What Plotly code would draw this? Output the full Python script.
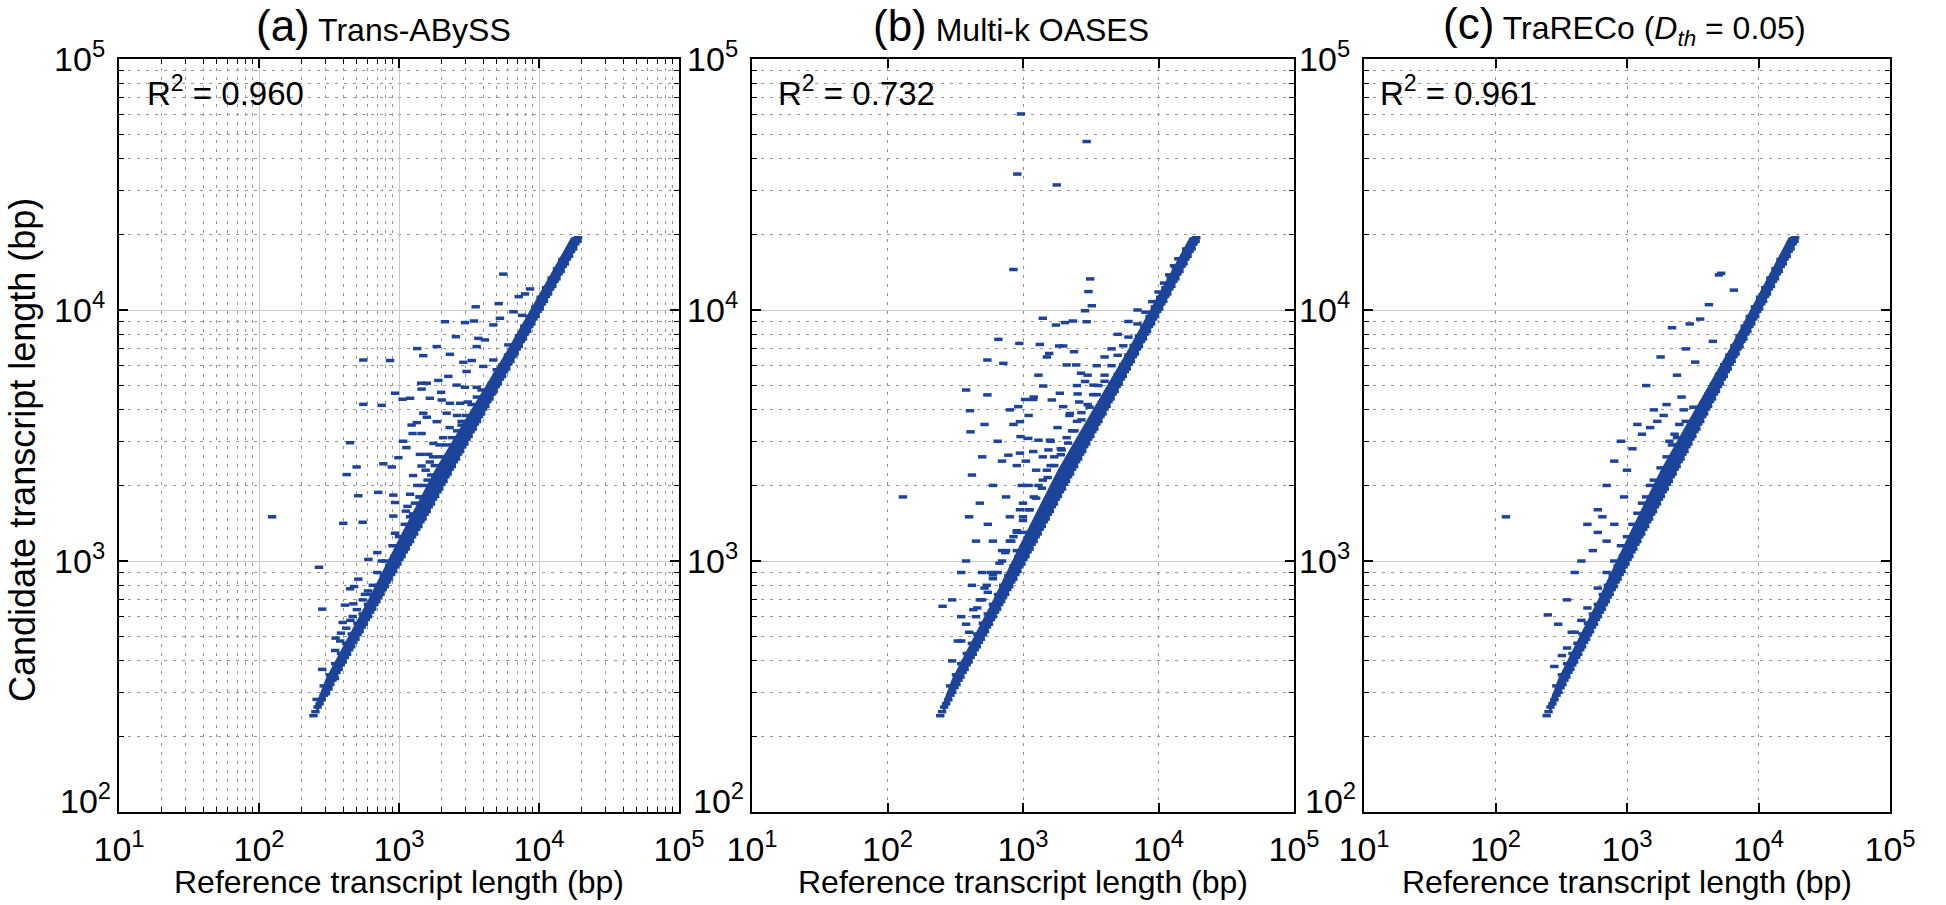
import plotly.graph_objects as go

# ---------------- data ----------------
# dense diagonal band (lower edge), common to all panels
band_x = [245, 253, 262, 271, 281, 291, 301, 312, 323, 334, 346, 358, 371, 384, 397, 411, 426, 441, 456, 472,
          489, 506, 524, 542, 561, 581, 601, 622, 644, 667, 690, 714, 739, 765, 792, 820, 849, 879, 910, 942,
          975, 1009, 1044, 1081, 1119, 1158, 1199, 1241, 1284, 1329, 1376, 1424, 1474, 1526, 1579, 1634, 1692,
          1751, 1812, 1875, 1941, 2009, 2079, 2152, 2227, 2305, 2386, 2469, 2556, 2645, 2738, 2834, 2933, 3036,
          3142, 3252, 3366, 3484, 3606, 3732, 3863, 3998, 4138, 4283, 4433, 4588, 4749, 4915, 5087, 5265, 5450,
          5640, 5838, 6042, 6254, 6473, 6699, 6934, 7176, 7428, 7688, 7957, 8236, 8524, 8822, 9131, 9451, 9782,
          10124, 10479, 10846, 11225, 11618, 12025, 12446, 12882, 13333, 13800, 14283, 14783, 15300, 15836,
          16390, 16964, 17558, 18172, 18808, 19000]
band_y = [242, 251, 262, 270, 280, 292, 300, 313, 322, 335, 345, 360, 370, 386, 396, 413, 425, 443, 455, 475,
          488, 509, 523, 546, 560, 585, 600, 626, 643, 671, 689, 719, 737, 770, 790, 826, 847, 884, 908, 948,
          973, 1016, 1042, 1088, 1116, 1166, 1196, 1250, 1282, 1339, 1372, 1435, 1470, 1537, 1575, 1647, 1688,
          1765, 1808, 1890, 1936, 2025, 2074, 2170, 2222, 2325, 2380, 2490, 2550, 2668, 2732, 2858, 2928, 3062,
          3135, 3280, 3358, 3515, 3598, 3765, 3855, 4034, 4128, 4322, 4422, 4630, 4738, 4960, 5075, 5314, 5437,
          5693, 5825, 6099, 6240, 6535, 6684, 7000, 7160, 7500, 7670, 8035, 8218, 8608, 8804, 9222, 9430, 9880,
          10100, 10585, 10820, 11340, 11590, 12150, 12420, 13016, 13305, 13945, 14252, 14940, 15268, 16006,
          16357, 17150, 17520, 18372, 18770, 19400]
# upper edge of the band
band2_x = [290, 320, 350, 385, 420, 460, 505, 550, 600, 655, 715, 780, 850, 930, 1015, 1110, 1210, 1320, 1440,
           1575, 1720, 1880, 2050, 2240, 2450, 2680, 2930, 3200, 3500, 3830, 4190, 4580, 5010, 5480, 6000, 6560,
           7180, 7850, 8590, 9400, 10280, 11250, 12300, 13450, 14700]
band2_y = [318, 352, 390, 428, 470, 512, 565, 615, 672, 735, 800, 875, 955, 1045, 1140, 1245, 1360, 1480, 1615,
           1765, 1925, 2100, 2290, 2500, 2730, 2985, 3260, 3560, 3890, 4250, 4640, 5070, 5540, 6050, 6610, 7220,
           7890, 8620, 9420, 10290, 11240, 12270, 13400, 14600, 15900]
# outline of the solid part of the band
core_x = [262, 1050, 5250, 10500, 20000, 19600, 17000, 12000, 6000, 3000, 1800, 1000, 600, 400, 300, 250]
core_y = [250, 1000, 5000, 10000, 19000, 19700, 19500, 13800, 7000, 3700, 2300, 1230, 700, 460, 340, 262]

# (a) Trans-ABySS scattered points
a_x = [5560, 8630, 7950, 7160, 3530, 5150, 6560, 7570, 5260, 2130, 2960, 3430, 4720, 2550, 3690, 4110, 6040,
       1860, 3590, 1350, 1490, 2310, 2880, 3310, 4720, 556, 863, 4000, 4990, 3040, 2250, 1910, 1440, 1580, 2580,
       1450, 2000, 2960, 3590, 3890, 936, 1200, 1060, 1660, 2020, 2310, 2730, 556, 752, 1490, 1580, 2190, 1230,
       1340, 1860, 2800, 1450, 1250, 2070, 447, 1070, 1130, 1760, 1410, 1620, 990, 498, 773, 423, 888, 1450,
       1660, 1260, 124, 512, 711, 911, 936, 1200, 1410, 400, 550, 911, 1120, 1260, 936, 700, 752, 604, 268,
       512, 447, 477, 571, 283, 411, 472, 467, 396, 353, 385, 283, 349, 313, 301, 258,
       1000, 1100, 1200, 1300, 1400, 1500, 1600, 1700, 1800, 2000, 2200, 2400, 2600, 2800, 3000, 3300, 3600,
       900, 800, 700, 650, 600, 550, 500, 450, 420, 380, 350, 1150, 1350, 1550, 1750, 1950, 2300, 2600, 3100]
a_y = [13900, 12130, 11590, 11300, 10300, 10600, 9840, 9520, 9270, 8980, 8910, 9040, 8720, 7830, 7710, 7600,
       7260, 7150, 7150, 7020, 6580, 6660, 6190, 6290, 6320, 6320, 6290, 5960, 5780, 5690, 5440, 5240, 5110,
       5110, 5020, 4840, 4700, 4920, 4920, 4800, 4660, 4450, 4410, 4450, 4380, 4250, 4250, 4210, 4170, 3880,
       3740, 3880, 3480, 3560, 3590, 3480, 3220, 3220, 3100, 2960, 3000, 2830, 2940, 2660, 2660, 2580, 2370,
       2440, 2210, 2370, 2390, 2480, 2190, 1500, 1820, 1877, 1830, 1710, 1845, 1800, 1413, 1427, 1510, 1580,
       1540, 1290, 1080, 1000, 1015, 944, 847, 775, 791, 736, 643, 667, 675, 601, 569, 493, 516, 370, 340, 309,
       296, 281,
       1250, 1400, 1500, 1700, 1800, 2000, 2100, 2200, 2400, 2600, 2900, 3100, 3300, 3600, 3800, 4200, 4500,
       1150, 1000, 900, 800, 760, 700, 640, 580, 540, 480, 440, 1650, 2000, 2300, 2600, 2900, 3400, 3800, 4300]

# (b) Multi-k OASES scattered points
b_x = [966, 2950, 908, 1775, 850, 3130, 3040, 3220, 2870, 2950, 1400, 1750, 2040, 2330, 658, 940, 1330, 1560,
       1850, 1980, 546, 716, 2380, 2470, 2100, 2680, 2870, 1410, 1870, 2530, 3310, 380, 546, 1035, 1190, 406,
       923, 1630, 1980, 2220, 410, 950, 959, 1093, 1300, 1580, 1540, 1930, 780, 950, 1190,
       130, 255, 300, 350, 380, 400, 420, 450, 480, 500, 520, 550, 600, 650, 700, 750, 800, 850, 900, 950, 980,
       1000, 1000, 1050, 1100, 1200, 1300, 1500, 500, 600, 700, 800, 900, 350, 420, 460, 520, 580,
       3500, 4000, 4500, 5000, 6000, 7000, 2500, 3000, 1100, 1250, 1400, 1600, 1800, 2200, 2600,
       300, 350, 400, 450, 500, 550, 600, 650, 700, 750, 800, 850, 900, 1000, 1100, 1200, 1300, 1400, 1500,
       1600, 1700, 1900, 2100, 2300, 2500, 2700, 3000, 3300, 3600, 4000, 4500, 5000, 5500, 6000, 7000, 8000,
       9000, 10000, 11000, 12000, 13000, 14000, 16000,
       330, 380, 430, 480, 540, 600, 670, 740, 820, 900, 1000, 1120, 1250, 1380, 1520, 1700, 1900, 2150,
       2400, 2700, 3100, 3500, 4000]
b_y = [60400, 46900, 34800, 31500, 14500, 13300, 11840, 10400, 9930, 8980, 9270, 8710, 8910, 9040, 7640, 7360,
       7290, 6710, 7190, 7190, 6320, 6130, 6820, 6040, 6040, 5600, 5190, 4980, 4660, 4630, 5020, 4800, 4590,
       4400, 4400, 3970, 4120, 4380, 4120, 3870, 3270, 3590, 3130, 3080, 3030, 3030, 2770, 2770, 2640, 2690,
       2730,
       1800, 660, 700, 900, 1000, 1500, 2200, 1200, 1700, 2600, 3500, 1400, 2000, 3000, 2500, 1800, 4000, 3500,
       2400, 1600, 2000, 1300, 1700, 2500, 3800, 4500, 5500, 6500, 900, 1200, 1100, 1500, 1100, 600, 800, 650,
       780, 900,
       6000, 6500, 7000, 8000, 9000, 10000, 5000, 5500, 2000, 2300, 2600, 3000, 3400, 3800, 4300,
       400, 480, 520, 600, 700, 750, 850, 900, 1000, 1100, 1200, 1250, 1300, 1500, 1600, 1800, 2000, 2100, 2300,
       2400, 2600, 2800, 3100, 3300, 3600, 3900, 4200, 4600, 5000, 5500, 6000, 6600, 7200, 7800, 8800, 9800,
       10800, 11800, 12800, 13800, 15000, 16000, 17500,
       480, 560, 640, 700, 800, 880, 980, 1080, 1200, 1320, 1450, 1600, 1780, 1950, 2150, 2400, 2650, 2950,
       3300, 3650, 4100, 4600, 5200]

# (c) TraRECo scattered points
c_x = [5200, 5000, 3600, 3000, 2200, 4200, 6500, 2800, 1800, 3300, 2400, 1400, 4500, 2600, 1600, 2000, 1200,
       900, 1100, 800, 700, 1300, 1500, 1700, 1900, 2100, 2300, 2500, 2700, 1000, 950, 600, 500, 650, 120, 250,
       300, 350, 400, 450, 550, 600, 700, 800, 380, 320, 280,
       1000, 1100, 1200, 1300, 1400, 1500, 1600, 1800, 2000, 2200, 2400, 2800, 3200, 900, 800, 700, 600, 500,
       450, 400, 350]
c_y = [14000, 13800, 9200, 8800, 8500, 10500, 12000, 7000, 6500, 6200, 5500, 5000, 7500, 4500, 4000, 4200,
       3500, 3000, 2800, 2500, 2000, 3200, 3400, 3600, 3800, 3000, 3200, 3500, 4000, 2300, 1800, 1600, 1400,
       1500, 1500, 610, 560, 700, 900, 1000, 1100, 1300, 1200, 1400, 520, 420, 380,
       1250, 1400, 1550, 1700, 1800, 2000, 2100, 2350, 2600, 2900, 3100, 3600, 4100, 1150, 1000, 900, 780, 650,
       580, 520, 450]

r2_values = ["0.960", "0.732", "0.961"]
panel_labels = ["(a)", "(b)", "(c)"]
panel_names = ["Trans-ABySS", "Multi-k OASES", "TraRECo (<i>D<sub>th</sub></i> = 0.05)"]
x_tickvals = [10, 100, 1000, 10000, 100000]
x_ticktext = ["10<sup>1</sup>", "10<sup>2</sup>", "10<sup>3</sup>", "10<sup>4</sup>", "10<sup>5</sup>"]
y_tickvals = [1000, 10000, 100000]
y_ticktext = ["10<sup>3</sup>", "10<sup>4</sup>", "10<sup>5</sup>"]
y_bottom_label = "10<sup>2</sup>"
x_title = "Reference transcript length (bp)"
y_title = "Candidate transcript length (bp)"

# ---------------- layout constants ----------------
W, H = 1946, 905
FONT = "Liberation Sans, Arial, Helvetica, sans-serif"
MARK = "#1c449a"
panels_px = [(119, 679), (752, 1294), (1364, 1890)]
title_cx = [383, 1011, 1624]
top_px, bot_px = 59, 812
r2_offset = [26, 24, 14]

minor_x = [m * 10 ** e for e in range(1, 5) for m in range(2, 10)]
minor_y = [m * 10 ** e for e in range(2, 5) for m in range(2, 10)]
DOT = "3px,6px"
DOTC = "#9a928a"
SOLIDC = "#c9c9c9"
TICKF = 34

fig = go.Figure()
series = [(a_x, a_y), (b_x, b_y), (c_x, c_y)]
for i, (sx, sy) in enumerate(series):
    xa = "x" if i == 0 else f"x{i+1}"
    ya = "y" if i == 0 else f"y{i+1}"
    fig.add_trace(go.Scatter(
        x=core_x, y=core_y, mode="lines", fill="toself", fillcolor=MARK,
        line=dict(width=0, color=MARK), xaxis=xa, yaxis=ya, showlegend=False, hoverinfo="skip"))
    fig.add_trace(go.Scatter(
        x=band_x + band2_x + sx, y=band_y + band2_y + sy, mode="markers", xaxis=xa, yaxis=ya,
        marker=dict(symbol="line-ew", size=6, color=MARK, line=dict(width=3.5, color=MARK)),
        showlegend=False, hoverinfo="skip"))

layout = dict(width=W, height=H, margin=dict(l=0, r=0, t=0, b=0),
              paper_bgcolor="white", plot_bgcolor="white",
              font=dict(family=FONT, color="black"), showlegend=False)

yd = [1 - bot_px / H, 1 - top_px / H]
annotations = []
for i, (l, r) in enumerate(panels_px):
    sfx = "" if i == 0 else str(i + 1)
    xd = [l / W, r / W]
    xaxis = dict(type="log", range=[1, 5], domain=xd, anchor="y" + sfx, automargin=False,
                 showline=True, linecolor="black", linewidth=2, mirror="ticks",
                 ticks="inside", ticklen=9, tickwidth=1.5, tickcolor="black",
                 tickvals=x_tickvals, ticktext=x_ticktext, ticklabelstandoff=6,
                 tickfont=dict(size=TICKF, family=FONT, color="black"),
                 showgrid=True, zeroline=False, layer="below traces")
    if i == 0:
        xaxis.update(gridcolor=SOLIDC, gridwidth=1.2,
                     minor=dict(tickmode="array", tickvals=minor_x, ticks="inside", ticklen=5,
                                tickcolor="black", tickwidth=1.2, showgrid=True,
                                gridcolor=DOTC, griddash=DOT, gridwidth=1.2))
    else:
        xaxis.update(gridcolor=DOTC, griddash=DOT, gridwidth=1.2)
    yaxis = dict(type="log", range=[2, 5], domain=yd, anchor="x" + sfx, automargin=False,
                 showline=True, linecolor="black", linewidth=2, mirror="ticks",
                 ticks="inside", ticklen=9, tickwidth=1.5, tickcolor="black",
                 tickvals=y_tickvals, ticktext=y_ticktext, ticklabelstandoff=5,
                 tickfont=dict(size=TICKF, family=FONT, color="black"),
                 showgrid=True, gridcolor=SOLIDC, gridwidth=1.2, zeroline=False,
                 minor=dict(tickmode="array", tickvals=minor_y, ticks="inside", ticklen=5,
                            tickcolor="black", tickwidth=1.2, showgrid=True,
                            gridcolor=DOTC, griddash=DOT, gridwidth=1.2))
    layout["xaxis" + sfx] = xaxis
    layout["yaxis" + sfx] = yaxis

    cx = (l + r) / 2 / W
    annotations.append(dict(
        text=f"<span style='font-size:44px'>{panel_labels[i]}</span> {panel_names[i]}",
        x=title_cx[i] / W, y=1 - 25 / H, xref="paper", yref="paper", xanchor="center", yanchor="middle",
        showarrow=False, font=dict(size=32, family=FONT, color="black")))
    annotations.append(dict(
        text=f"R<sup>2</sup> = {r2_values[i]}", x=(l + r2_offset[i]) / W, y=1 - 91 / H,
        xref="paper", yref="paper", xanchor="left", yanchor="middle",
        showarrow=False, font=dict(size=33, family=FONT, color="black")))
    annotations.append(dict(
        text=x_title, x=cx, y=1 - 882 / H, xref="paper", yref="paper",
        xanchor="center", yanchor="middle", showarrow=False,
        font=dict(size=32, family=FONT, color="black")))
    # bottom y tick label (10^2), raised slightly above its tick as in the original
    annotations.append(dict(
        text=y_bottom_label, x=(l - 6) / W, y=1 - 798 / H, xref="paper", yref="paper",
        xanchor="right", yanchor="middle", showarrow=False,
        font=dict(size=TICKF, family=FONT, color="black")))

annotations.append(dict(
    text=y_title, x=22 / W, y=1 - 450 / H, xref="paper", yref="paper", textangle=-90,
    xanchor="center", yanchor="middle", showarrow=False,
    font=dict(size=36, family=FONT, color="black")))
layout["annotations"] = annotations

fig.update_layout(**layout)
fig.write_html("out.html", config={"displayModeBar": False},
               post_script="document.body.style.margin='0';document.body.style.overflow='hidden';")
